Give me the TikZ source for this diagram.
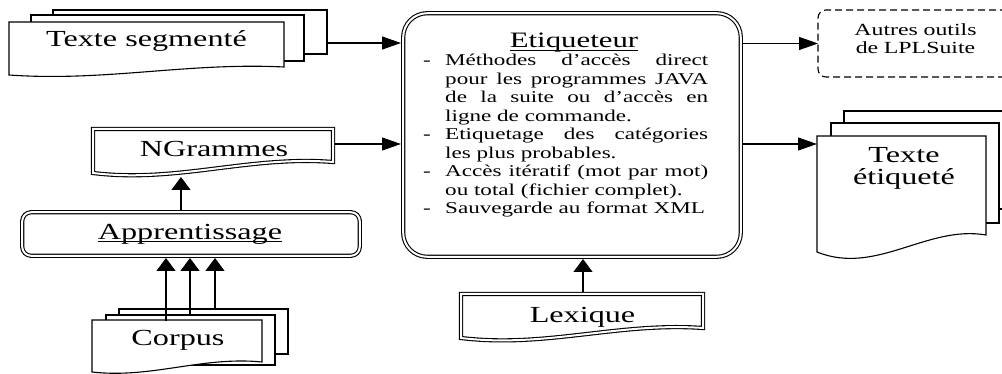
\documentclass[tikz,border=0pt]{standalone}
\usepackage{fontspec}
\setmainfont{Liberation Serif}[FakeStretch=1.4]
\usetikzlibrary{arrows.meta}
\newcommand\myul[2][2.5pt]{\sbox0{#2}\rlap{\rule[-#1]{\wd0}{0.9pt}}\usebox0}
% doc shape: [opts] x0 top x1 yL yR dip
\newcommand\docshape[7][]{%
  \draw[doc,#1] (#2,#3) -- (#4,#3) -- (#4,#6)
    .. controls ({#2+0.65*(#4-#2)},{#6-0.6*(#5-#6)}) and ({#2+0.35*(#4-#2)},{#5+3.4*#7}) .. (#2,#5) -- cycle;}
\tikzset{
  doc/.style={line width=1.1pt, fill=white, line join=miter},
  page/.style={draw, line width=1.1pt, fill=white, inner sep=0pt, outer sep=0pt},
  dbl/.style={line width=1.1pt, double=white, double distance=2pt},
  ghost/.style={inner sep=0pt, outer sep=0pt},
  lbl/.style={inner sep=0pt, font=\fontsize{23pt}{26pt}\selectfont},
  harr/.style={line width=1.1pt, -{Triangle[length=19pt,width=13pt]}},
  varr/.style={line width=1.1pt, -{Triangle[length=13pt,width=19pt]}},
}
\begin{document}
\begin{tikzpicture}[x=1pt,y=-1pt]
\useasboundingbox (0,0) rectangle (1002,374);
\fill[white] (0,0) rectangle (1002,374);
\clip (0,0) rectangle (1002,374);

% Texte segmente (stack)
\node[page, minimum width=274pt, minimum height=44pt] (ts3) at (190,32) {};
\node[page, minimum width=273pt, minimum height=46pt] (ts2) at (167.5,38) {};
\docshape{9}{22}{284}{75}{67}{2}
\node[ghost, minimum width=275pt, minimum height=53pt] (ts) at (146.5,48.5) {};
\node[lbl, anchor=base] (tsT) at (146.5,47) {Texte segmenté};

% NGrammes
\docshape[dbl]{93}{129}{333}{173}{162}{3}
\node[ghost, minimum width=244pt, minimum height=50pt] (ng) at (213,152) {};
\node[lbl, anchor=base] (ngT) at (214,157) {NGrammes};

% Apprentissage
\node[draw, dbl, rounded corners=9pt, minimum width=337.6pt, minimum height=43.6pt, inner sep=0pt, outer sep=2.2pt] (ap) at (191,234) {};
\node[lbl, anchor=base] (apT) at (190,240) {\myul[2pt]{Apprentissage}};

% Corpus (stack)
\node[page, minimum width=169pt, minimum height=45pt] (cp3) at (203.5,331.5) {};
\node[page, minimum width=169pt, minimum height=50pt] (cp2) at (190.5,340) {};
\docshape{92}{320}{262}{372}{362}{2}
\node[ghost, minimum width=170pt, minimum height=52pt] (cp) at (177,346) {};
\node[lbl, anchor=base] (cpT) at (178,345) {Corpus};

% Etiqueteur
\node[draw, dbl, rounded corners=24pt, minimum width=337.6pt, minimum height=243.6pt, inner sep=0pt, outer sep=2.2pt] (et) at (572,135) {};
\node[inner sep=0pt, anchor=base, font=\fontsize{22pt}{24pt}\selectfont] (etT) at (574,48) {\myul[2.5pt]{Etiqueteur}};
\node[inner sep=0pt, anchor=base west, text width=285pt, align=justify,
      font=\fontsize{16.5pt}{18.5pt}\selectfont] (etB) at (423,66) {%
\parindent=0pt
\hangindent=22pt\hangafter=1\noindent\makebox[22pt][l]{-}Méthodes d’accès direct\linebreak pour les programmes JAVA\linebreak de la suite ou d’accès en\linebreak ligne de commande.\par
\hangindent=22pt\hangafter=1\noindent\makebox[22pt][l]{-}Etiquetage des catégories\linebreak les plus probables.\par
\hangindent=22pt\hangafter=1\noindent\makebox[22pt][l]{-}Accès itératif (mot par mot)\linebreak ou total (fichier complet).\par
\hangindent=22pt\hangafter=1\noindent\makebox[22pt][l]{-}Sauvegarde au format XML\par};

% Lexique
\docshape[dbl]{461}{294}{703}{338}{328}{3}
\node[ghost, minimum width=246pt, minimum height=50pt] (lx) at (582,317) {};
\node[lbl, anchor=base] (lxT) at (582.5,323) {Lexique};

% Autres outils
\node[draw, line width=1.1pt, dash pattern=on 7pt off 4pt, rounded corners=8pt, minimum width=197pt, minimum height=67pt, inner sep=0pt, outer sep=0pt] (au) at (916.5,43.5) {};
\node[inner sep=0pt, anchor=base, text width=160pt, align=center, font=\fontsize{17pt}{17.5pt}\selectfont] (auT) at (915.5,36) {Autres outils\\de LPLSuite};

% Texte etiquete (stack)
\node[page, minimum width=168pt, minimum height=98pt] (te3) at (928,160) {};
\node[page, minimum width=168pt, minimum height=100pt] (te2) at (915,173) {};
\docshape{817}{136}{986}{252}{235}{7}
\node[ghost, minimum width=169pt, minimum height=120pt] (te) at (901.5,196) {};
\node[lbl, anchor=base, text width=160pt, align=center, font=\fontsize{23pt}{22pt}\selectfont] (teT) at (904,163) {Texte\\étiqueté};

% connectors
\coordinate (a1) at (327,43);
\draw[harr] (a1) -- (a1 -| et.west);
\coordinate (a2) at (335,144);
\draw[harr] (a2) -- (a2 -| et.west);
\coordinate (a3) at (181,177);
\draw[varr] (a3 |- ap.north) -- (a3);
\coordinate (c1) at (166,321);
\coordinate (c2) at (190,315);
\coordinate (c3) at (215,309);
\draw[varr] (c1) -- (c1 |- ap.south);
\draw[varr] (c2) -- (c2 |- ap.south);
\draw[varr] (c3) -- (c3 |- ap.south);
\coordinate (a7) at (583,292);
\draw[varr] (a7) -- (a7 |- et.south);
\draw[harr] (au.west -| et.east) -- (au.west);
\coordinate (a9) at (817,144);
\draw[harr] (a9 -| et.east) -- (a9);
\end{tikzpicture}
\end{document}
